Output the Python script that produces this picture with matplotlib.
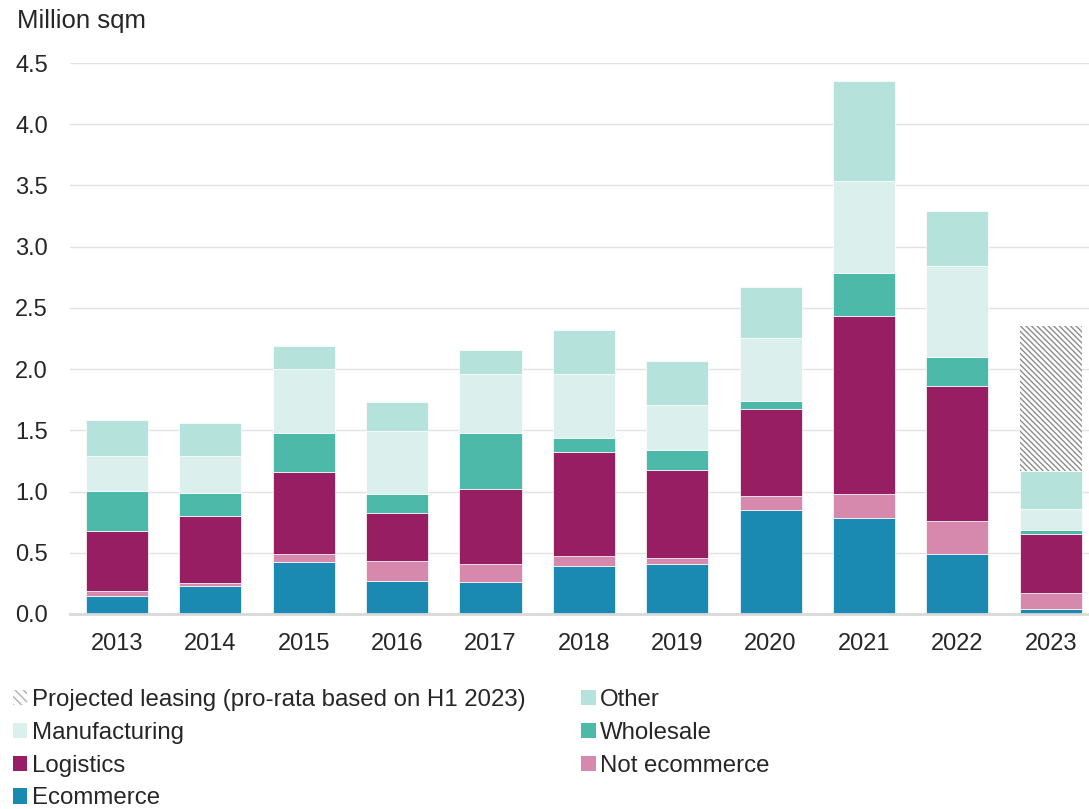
import matplotlib
matplotlib.use("Agg")
import matplotlib.pyplot as plt
from matplotlib.patches import Patch
import numpy as np

plt.rcParams['font.family'] = ['Liberation Sans', 'DejaVu Sans']
plt.rcParams['hatch.color'] = '#8c8c8c'
plt.rcParams['hatch.linewidth'] = 1.0

years = ['2013', '2014', '2015', '2016', '2017', '2018', '2019', '2020', '2021', '2022', '2023']
ecommerce     = [0.144, 0.232, 0.422, 0.267, 0.259, 0.390, 0.410, 0.846, 0.782, 0.493, 0.044]
not_ecommerce = [0.041, 0.019, 0.071, 0.166, 0.153, 0.087, 0.050, 0.114, 0.196, 0.269, 0.131]
logistics     = [0.496, 0.547, 0.668, 0.394, 0.605, 0.843, 0.720, 0.712, 1.453, 1.100, 0.482]
wholesale     = [0.322, 0.191, 0.319, 0.149, 0.464, 0.120, 0.160, 0.070, 0.353, 0.236, 0.026]
manufacturing = [0.291, 0.300, 0.520, 0.522, 0.475, 0.519, 0.370, 0.516, 0.750, 0.744, 0.172]
other         = [0.292, 0.270, 0.190, 0.237, 0.204, 0.360, 0.360, 0.409, 0.817, 0.447, 0.309]
projected     = [0, 0, 0, 0, 0, 0, 0, 0, 0, 0, 1.185]

series = [
    ('Ecommerce', ecommerce, '#1a8ab3'),
    ('Not ecommerce', not_ecommerce, '#d688ad'),
    ('Logistics', logistics, '#981e64'),
    ('Wholesale', wholesale, '#4dbaa9'),
    ('Manufacturing', manufacturing, '#dbf0ec'),
    ('Other', other, '#b5e3dc'),
]

fig = plt.figure(figsize=(10.89, 8.09), dpi=100)
ax = fig.add_axes([70/1089, 1-614/809, 1-70/1089, (614-63)/809])

x = np.arange(len(years))
w = 0.665
bottom = np.zeros(len(years))
handles = {}
for name, vals, col in series:
    vals = np.array(vals)
    ax.bar(x, vals, w, bottom=bottom, color=col, edgecolor='white', linewidth=0.5, zorder=3)
    handles[name] = Patch(facecolor=col, edgecolor='none')
    bottom = bottom + vals

proj = np.array(projected)
mask = proj > 0
ax.bar(x[mask], proj[mask], w, bottom=bottom[mask], facecolor='white', edgecolor='#8c8c8c',
       linewidth=0, hatch='\\\\\\\\\\\\', zorder=3)
handles['proj'] = Patch(facecolor='white', edgecolor='#b0b0b0', linewidth=0, hatch='\\\\\\\\')

ax.set_ylim(0, 4.5)
ax.set_xlim(-0.503, 10.41)
ax.set_yticks(np.arange(0, 4.51, 0.5))
ax.set_yticklabels([f'{v:.1f}' for v in np.arange(0, 4.51, 0.5)])
ax.set_xticks(x)
ax.set_xticklabels(years)
ax.tick_params(axis='both', length=0, labelsize=17, colors='#262626')
ax.tick_params(axis='y', pad=16)
ax.tick_params(axis='x', pad=14)
ax.grid(axis='y', color='#e2e2e2', linewidth=1, zorder=0)
for s in ['top', 'right', 'left']:
    ax.spines[s].set_visible(False)
ax.spines['bottom'].set_color('#d9d9d9')
ax.spines['bottom'].set_linewidth(2)
ax.spines['bottom'].set_zorder(4)

fig.text(17/1089, 1-21/809, 'Million sqm', fontsize=18.5, color='#262626', va='center', ha='left')

leg_handles = [handles['proj'], handles['Manufacturing'], handles['Logistics'], handles['Ecommerce'],
               handles['Other'], handles['Wholesale'], handles['Not ecommerce']]
leg_labels = ['Projected leasing (pro-rata based on H1 2023)', 'Manufacturing', 'Logistics', 'Ecommerce',
              'Other', 'Wholesale', 'Not ecommerce']
fig.legend(leg_handles, leg_labels, ncol=2, loc='upper left', bbox_to_anchor=(13/1089, 1-689/809),
           frameon=False, fontsize=17.3, handlelength=0.6, handleheight=0.6, handletextpad=0.2,
           columnspacing=2.3, labelspacing=0.45, borderpad=0, borderaxespad=0, labelcolor='#262626')

fig.savefig('out.png', dpi=100)
